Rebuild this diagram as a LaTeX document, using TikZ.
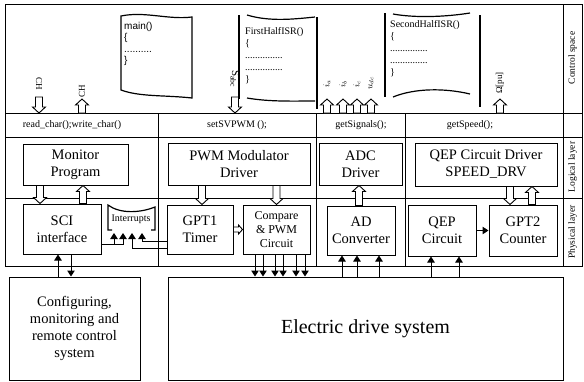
\documentclass[tikz,border=0pt]{standalone}
\usepackage{fontspec}
\setmainfont{Liberation Serif}
\newfontfamily\arialfont{Liberation Sans}
\usepackage{tikz}
\usetikzlibrary{arrows.meta, calc}

\tikzset{
  frame/.style={line width=1pt},
  blk/.style={draw, line width=1pt, align=center, inner sep=1pt},
  doc/.style={line width=1.2pt},
  fat/.style n args={3}{draw, line width=0.9pt, fill=white, to path={
      ($(\tikztostart)!#1!90:(\tikztotarget)$)
      -- ($(\tikztotarget)!#2!(\tikztostart)!#1!-90:(\tikztostart)$)
      -- ($(\tikztotarget)!#2!(\tikztostart)!#3!-90:(\tikztostart)$)
      -- (\tikztotarget)
      -- ($(\tikztotarget)!#2!(\tikztostart)!#3!90:(\tikztostart)$)
      -- ($(\tikztotarget)!#2!(\tikztostart)!#1!90:(\tikztostart)$)
      -- ($(\tikztostart)!#1!-90:(\tikztotarget)$) -- cycle}},
  fatarrow/.style={fat={3.5pt}{6pt}{6.5pt}},
  fatsmall/.style={fat={2.5pt}{4pt}{4.5pt}},
  sig/.style={line width=1pt, -{Triangle[length=6pt, width=7.5pt]}},
  fn/.style={font=\fontsize{10}{12}\selectfont},
  lay/.style={rotate=90, font=\fontsize{9.5}{11}\selectfont},
  lbl/.style={inner sep=0pt, font=\fontsize{9}{10}\selectfont},
  big/.style={font=\fontsize{14.5}{17}\selectfont},
  codetxt/.style={inner sep=0pt, align=left, anchor=north west, font=\fontsize{10}{12}\selectfont}
}

\begin{document}
\begin{tikzpicture}[x=1pt, y=-1pt]
    \useasboundingbox (0,0) rectangle (584,381);

    \draw[frame] (5,4) rectangle (582,266);
    \draw[frame] (5,113) -- (582,113);
    \draw[frame] (5,137) -- (582,137);
    \draw[frame] (5,198) -- (582,198);
    \foreach \x in {158,316,405} \draw[frame] (\x,113) -- (\x,266);
    \draw[frame] (563,4) -- (563,266);

    \node[lay] (ctl) at (572.5,58) {Control space};
    \node[lay] (logl) at (572.5,167) {Logical layer};
    \node[lay] (phyl) at (572.5,232) {Physical layer};

    \coordinate (row) at (0,113);
    \coordinate (tipin) at (0,97);
    \coordinate (tipout) at (0,99);

    \node[fn] (rwchar) at (72,125) {read\_char();write\_char()};
    \node[fn] (svpwm) at (237,125) {setSVPWM ();};
    \node[fn] (getsig) at (361,125) {getSignals();};
    \node[fn] (getspd) at (470,125) {getSpeed();};

    \draw[doc] (121,16) .. controls (145,11) and (168,20) .. (192,17) -- (192,98) .. controls (165,95) and (140,97) .. (121,90) -- cycle;
    \node[codetxt, font=\arialfont\fontsize{10}{11.5}\selectfont] (mainsrc) at (124,22) {main()\\\{\\..........\\\}};

    \draw[doc] (239,15) -- (239,99);
    \draw[doc] (317,17) -- (317,109);
    \draw[doc] (247,15) .. controls (270,22) and (295,19) .. (315,17);
    \draw[doc] (247,98) .. controls (270,102) and (295,101) .. (315,101);
    \node[codetxt] (firstsrc) at (245,27) {FirstHalfISR()\\\{\\...............\\...............\\\}};

    \draw[doc] (385,13) -- (385,97);
    \draw[doc] (480,15) -- (480,107);
    \draw[doc] (393,14) .. controls (415,18) and (445,17) .. (470,13);
    \draw[doc] (393,97) .. controls (415,88) and (445,88) .. (470,94);
    \node[codetxt] (secondsrc) at (390,20) {SecondHalfISR()\\\{\\...............\\...............\\\}};

    \node[lbl, rotate=-90] (chin) at (39,84) {CH};
    \node[lbl, rotate=90] (chout) at (82,91) {CH};
    \node[lbl, rotate=-90, font=\fontsize{11}{12}\selectfont] (sabc) at (235,79) {S\textsubscript{abc}};
    \node[lbl, rotate=90] (ia) at (327,84) {$i_a$};
    \node[lbl, rotate=90] (ib) at (343,84) {$i_b$};
    \node[lbl, rotate=90] (ic) at (357,84) {$i_c$};
    \node[lbl, rotate=90] (udc) at (371,83) {$u_{dc}$};
    \node[lbl, rotate=90] (omega) at (500,83) {Ω[pu]};

    \draw[fatarrow] (chin |- tipin) to (chin |- row);
    \draw[fatarrow] (chout |- row) to (chout |- tipout);
    \draw[fatarrow] (sabc |- tipin) to (sabc |- row);
    \foreach \s in {ia,ib,ic,udc} \draw[fatarrow] (\s |- row) to (\s |- tipout);
    \draw[fatarrow] (omega |- row) to (omega |- tipout);

    \node[blk, big, minimum width=105pt, minimum height=41pt] (mon) at (75.5,164.5) {Monitor\\Program};
    \node[blk, big, minimum width=142pt, minimum height=42pt] (pwmdrv) at (239,164) {PWM Modulator\\Driver};
    \node[blk, big, minimum width=83pt, minimum height=42pt] (adcdrv) at (360.5,164) {ADC\\Driver};
    \node[blk, big, minimum width=142pt, minimum height=43pt] (qepdrv) at (486,164.5) {QEP Circuit Driver\\SPEED\_DRV};

    \node[blk, big, minimum width=78pt, minimum height=50pt] (sci) at (62,229) {SCI\\interface};
    \node[blk, big, minimum width=66pt, minimum height=49pt] (gpt1) at (200,229.5) {GPT1\\Timer};
    \node[blk, font=\fontsize{12}{14}\selectfont, minimum width=67pt, minimum height=49pt] (cmp) at (276.5,229.5) {Compare\\\& PWM\\Circuit};
    \node[blk, big, minimum width=68pt, minimum height=49pt] (adconv) at (361,230.5) {AD\\Converter};
    \node[blk, big, minimum width=68pt, minimum height=51pt] (qep) at (442,230.5) {QEP\\Circuit};
    \node[blk, big, minimum width=68pt, minimum height=51pt] (gpt2) at (523,230.5) {GPT2\\Counter};

    \draw[doc] (112,230) -- (108,230) -- (108,205) .. controls (120,214) and (140,213) .. (155,207) -- (155,230) -- (151,230);
    \node[inner sep=0pt, font=\fontsize{10}{12}\selectfont] (irq) at (131,219) {Interrupts};
    \coordinate (irq1) at (114,233);
    \coordinate (irq2) at (123,233);
    \coordinate (irq3) at (132,233);
    \coordinate (irq4) at (142,233);

    \node[blk, big, minimum width=131pt, minimum height=103pt, font=\fontsize{14.5}{16.7}\selectfont] (conf) at (74.5,328.5) {Configuring,\\monitoring and\\remote control\\system};
    \node[blk, minimum width=395pt, minimum height=103pt, font=\fontsize{20}{24}\selectfont] (eds) at (365.5,328.5) {Electric drive system};

    \draw[fatarrow] (mon.south -| 40,0) to (sci.north -| 40,0);
    \draw[fatarrow] (sci.north -| 83,0) to (mon.south -| 83,0);
    \draw[fatarrow] (pwmdrv.south -| 202,0) to (gpt1.north -| 202,0);
    \draw[fatarrow] (pwmdrv.south -| cmp) to (cmp.north);
    \draw[fatarrow] (adconv.north -| 359,0) to (adcdrv.south -| 359,0);
    \draw[fatarrow] (qepdrv.south -| 510,0) to (gpt2.north -| 510,0);
    \draw[fatarrow] (gpt2.north -| 532,0) to (qepdrv.south -| 532,0);
    \draw[fatsmall] (gpt1.east) to (cmp.west);

    \draw[sig] (sci.east |- 0,244) -| (irq1);
    \draw[sig] (sci.east |- 0,244) -| (irq2);
    \draw[sig] (gpt1.west |- 0,248) -| (irq3);
    \draw[sig] (gpt1.west |- 0,241) -| (irq4);
    \draw[sig] (qep) -- (gpt2);

    \draw[sig] (conf.north -| 58,0) -- (sci.south -| 58,0);
    \draw[sig] (sci.south -| 71,0) -- (conf.north -| 71,0);
    \foreach \x in {255,263,275,283,296,305} \draw[sig] (cmp.south -| \x,0) -- (eds.north -| \x,0);
    \foreach \x in {342,357,379} \draw[sig] (eds.north -| \x,0) -- (adconv.south -| \x,0);
    \foreach \x in {431,459} \draw[sig] (eds.north -| \x,0) -- (qep.south -| \x,0);
\end{tikzpicture}
\end{document}
